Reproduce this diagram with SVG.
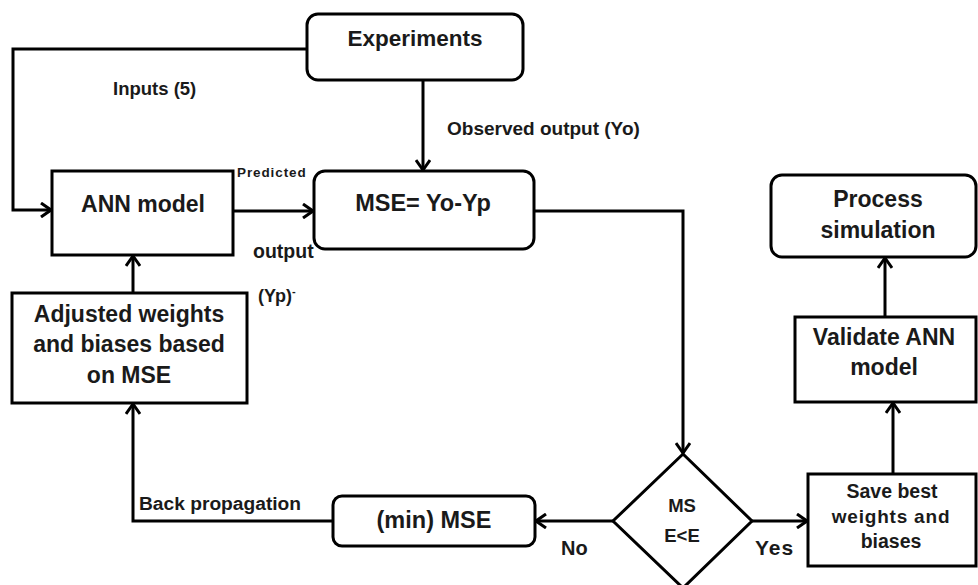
<svg xmlns="http://www.w3.org/2000/svg" width="978" height="585" viewBox="0 0 978 585">
  <style>
    .box { fill: #ffffff; stroke: #000000; stroke-width: 3; }
    .wire { fill: none; stroke: #000000; stroke-width: 3; }
    .t { font-family: "Liberation Sans", Arial, sans-serif; font-weight: bold; fill: #1a1a1a; text-anchor: middle; }
    .l { font-family: "Liberation Sans", Arial, sans-serif; font-weight: bold; fill: #1a1a1a; }
  </style>
  <defs>
    <marker id="arrow" markerUnits="userSpaceOnUse" viewBox="0 0 12 16" markerWidth="12" markerHeight="16" refX="11" refY="8" orient="auto">
      <path d="M1,1 L11,8 L1,15" fill="none" stroke="#000" stroke-width="3" stroke-linejoin="miter"/>
    </marker>
  </defs>
  <rect width="978" height="585" fill="#ffffff"/>

  <!-- connectors -->
  <g id="connectors" class="wire">
    <polyline points="307,49 13,49 13,210 51,210" marker-end="url(#arrow)"/>
    <line x1="423" y1="80" x2="423" y2="170" marker-end="url(#arrow)"/>
    <line x1="233" y1="211" x2="313" y2="211" marker-end="url(#arrow)"/>
    <polyline points="534,211 683,211 683,453" marker-end="url(#arrow)"/>
    <line x1="613" y1="521" x2="536" y2="521" marker-end="url(#arrow)"/>
    <polyline points="333,521 133,521 133,404" marker-end="url(#arrow)"/>
    <line x1="133" y1="293" x2="133" y2="256" marker-end="url(#arrow)"/>
    <line x1="752" y1="521" x2="807" y2="521" marker-end="url(#arrow)"/>
    <line x1="893" y1="474" x2="893" y2="403" marker-end="url(#arrow)"/>
    <line x1="885" y1="317" x2="885" y2="258" marker-end="url(#arrow)"/>
  </g>

  <!-- connector labels -->
  <g id="labels">
    <text class="l" x="113" y="95" font-size="18.5">Inputs (5)</text>
    <text class="l" x="447" y="135" font-size="19">Observed output (Yo)</text>
    <text class="l" x="237" y="177" font-size="13.5" letter-spacing="0.9">Predicted</text>
    <text class="l" x="253" y="258" font-size="19.5">output</text>
    <text class="l" x="258" y="302" font-size="18">(Yp)<tspan font-size="11" dy="-7">-</tspan></text>
    <text class="l" x="139" y="510" font-size="19.2">Back propagation</text>
    <text class="l" x="561" y="555" font-size="20">No</text>
    <text class="l" x="755" y="555" font-size="21" letter-spacing="1">Yes</text>
  </g>

  <g id="experiments">
    <rect class="box" x="307" y="14" width="216" height="66" rx="11"/>
    <text class="t" x="415" y="46" font-size="22.5">Experiments</text>
  </g>

  <g id="ann-model">
    <rect class="box" x="52" y="171" width="181" height="84"/>
    <text class="t" x="143" y="212" font-size="23">ANN model</text>
  </g>

  <g id="mse">
    <rect class="box" x="314" y="171" width="220" height="78" rx="11"/>
    <text class="t" x="423" y="211" font-size="23.5">MSE= Yo-Yp</text>
  </g>

  <g id="adjust-weights">
    <rect class="box" x="12" y="293" width="235" height="110"/>
    <text class="t" x="129" y="322" font-size="23">Adjusted weights</text>
    <text class="t" x="129" y="352" font-size="23">and biases based</text>
    <text class="t" x="129" y="383" font-size="23">on MSE</text>
  </g>

  <g id="min-mse">
    <rect class="box" x="333" y="496" width="202" height="50" rx="9"/>
    <text class="t" x="434" y="528" font-size="23.5">(min) MSE</text>
  </g>

  <g id="decision">
    <polygon class="box" points="683,454 752,521 683,588 613,521"/>
    <text class="t" x="682" y="512" font-size="18.5">MS</text>
    <text class="t" x="682" y="542" font-size="18.5">E&lt;E</text>
  </g>

  <g id="save-best">
    <rect class="box" x="808" y="474" width="168" height="92"/>
    <text class="t" x="892" y="498" font-size="19.5">Save best</text>
    <text class="t" x="891" y="523" font-size="19" letter-spacing="0.8">weights and</text>
    <text class="t" x="891" y="548" font-size="19.5">biases</text>
  </g>

  <g id="validate">
    <rect class="box" x="795" y="317" width="181" height="85"/>
    <text class="t" x="884" y="345" font-size="23">Validate ANN</text>
    <text class="t" x="884" y="375" font-size="23">model</text>
  </g>

  <g id="process-simulation">
    <rect class="box" x="771" y="175" width="205" height="82" rx="11"/>
    <text class="t" x="878" y="207" font-size="23">Process</text>
    <text class="t" x="878" y="238" font-size="23">simulation</text>
  </g>
</svg>
